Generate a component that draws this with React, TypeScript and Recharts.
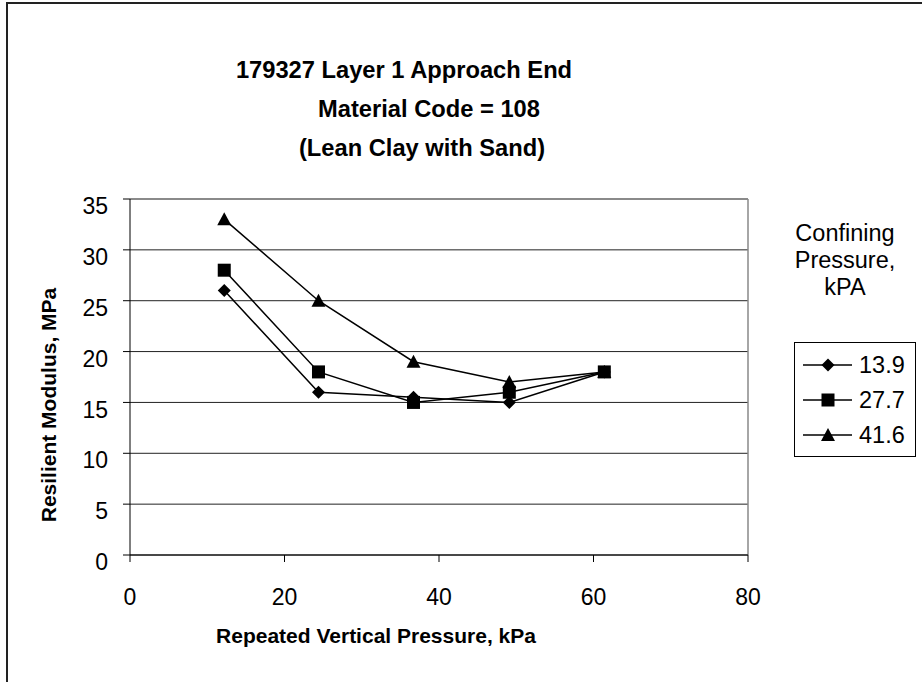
import { ScatterChart, Scatter, XAxis, YAxis, CartesianGrid, ReferenceLine } from "recharts";

// repeated vertical pressure (kPa) for each load step
const pressure = [12.2, 24.4, 36.7, 49.1, 61.4];

// resilient modulus (MPa) per confining pressure
const conf139 = [26, 16, 15.5, 15, 18];
const conf277 = [28, 18, 15, 16, 18];
const conf416 = [33, 25, 19, 17, 18];

const seriesNames = ["13.9", "27.7", "41.6"];
const xTicks = [0, 20, 40, 60, 80];
const yTicks = [0, 5, 10, 15, 20, 25, 30, 35];

const titleLines = ["179327 Layer 1 Approach End", "Material Code = 108", "(Lean Clay with Sand)"];

const font = "'Liberation Sans', Arial, sans-serif";

const toPoints = (ys: number[]) => ys.map((y, i) => ({ x: pressure[i], y }));

function Diamond({ cx, cy }: any) {
  const r = 6.5;
  return <path d={`M${cx},${cy - r}L${cx + r},${cy}L${cx},${cy + r}L${cx - r},${cy}Z`} fill="#000" />;
}
function Square({ cx, cy }: any) {
  const r = 6.5;
  return <rect x={cx - r} y={cy - r} width={2 * r} height={2 * r} fill="#000" />;
}
function Triangle({ cx, cy }: any) {
  return <path d={`M${cx},${cy - 7}L${cx + 7},${cy + 6}L${cx - 7},${cy + 6}Z`} fill="#000" />;
}

const shapes = [Diamond, Square, Triangle];

export default function App() {
  const data = [conf139, conf277, conf416];
  return (
    <div style={{ position: "absolute", left: 0, top: 0, width: 922, height: 682, overflow: "hidden", background: "#fff" }}>
      <div style={{ position: "absolute", left: 6, top: 2, width: 1000, height: 1000, border: "2px solid #222" }} />
      <ScatterChart width={922} height={682} margin={{ top: 199, right: 174, bottom: 67, left: 0 }}>
        <CartesianGrid vertical={false} stroke="#222" horizontalValues={yTicks} />
        <XAxis
          type="number"
          dataKey="x"
          domain={[0, 80]}
          ticks={xTicks}
          height={60}
          stroke="#000"
          tickSize={7}
          tickMargin={27}
          tick={{ fill: "#000", fontSize: 23, fontFamily: font }}
        />
        <YAxis
          type="number"
          dataKey="y"
          domain={[0, 35]}
          ticks={yTicks}
          width={130}
          stroke="#000"
          tickSize={7}
          tickMargin={15}
          tick={{ fill: "#000", fontSize: 23, fontFamily: font, dy: 7 }}
        />
        <ReferenceLine x={80} stroke="#888" strokeWidth={1.5} />
        <ReferenceLine y={35} stroke="#888" strokeWidth={1.5} />
        {data.map((ys, i) => (
          <Scatter
            key={seriesNames[i]}
            name={seriesNames[i]}
            data={toPoints(ys)}
            fill="#000"
            line={{ stroke: "#000", strokeWidth: 1.5 }}
            shape={shapes[i]}
            isAnimationActive={false}
          />
        ))}
      </ScatterChart>
      <svg width={922} height={682} style={{ position: "absolute", left: 0, top: 0, pointerEvents: "none" }}>
        <g fontFamily={font} fontWeight="bold" fontSize={23.7} textAnchor="middle" fill="#000">
          <text x={404} y={70} dominantBaseline="central">{titleLines[0]}</text>
          <text x={429} y={109} dominantBaseline="central">{titleLines[1]}</text>
          <text x={422} y={148} dominantBaseline="central">{titleLines[2]}</text>
        </g>
        <g fontFamily={font} fontWeight="bold" fontSize={21} textAnchor="middle" fill="#000">
          <text x={376} y={635} dominantBaseline="central">Repeated Vertical Pressure, kPa</text>
          <text x={48} y={405} dominantBaseline="central" transform="rotate(-90 48 405)">
            Resilient Modulus, MPa
          </text>
        </g>
        <g fontFamily={font} fontSize={23.5} textAnchor="middle" fill="#000">
          <text x={845} y={233} dominantBaseline="central">Confining</text>
          <text x={845} y={260} dominantBaseline="central">Pressure,</text>
          <text x={845} y={287} dominantBaseline="central">kPA</text>
        </g>
        <rect x={794.5} y={342.5} width={121} height={114} fill="#fff" stroke="#000" strokeWidth={1} />
        {seriesNames.map((name, i) => {
          const cy = 365 + i * 35;
          const Shape = shapes[i];
          return (
            <g key={name}>
              <line x1={803} x2={852} y1={cy} y2={cy} stroke="#000" strokeWidth={1.5} />
              <Shape cx={828} cy={cy} />
              <text x={859} y={cy} dominantBaseline="central" fontFamily={font} fontSize={23.5} fill="#000">
                {name}
              </text>
            </g>
          );
        })}
      </svg>
    </div>
  );
}
